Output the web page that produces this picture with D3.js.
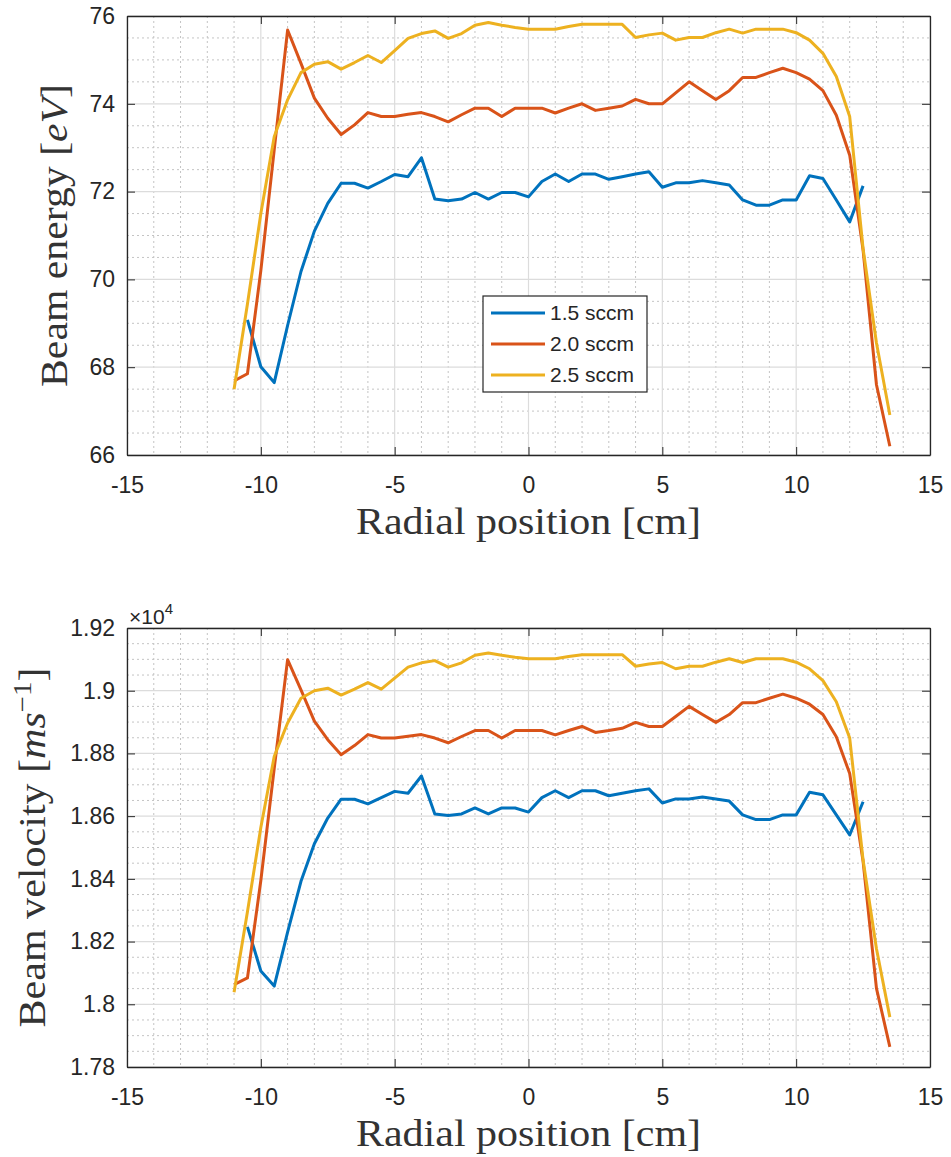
<!DOCTYPE html>
<html>
<head>
<meta charset="utf-8">
<script src="https://cdn.jsdelivr.net/npm/d3@7"></script>
<style>
  html, body { margin: 0; padding: 0; background: #ffffff; }
  svg { display: block; }
</style>
</head>
<body>
<svg id="chart" width="951" height="1157"></svg>
<script>
// ---------------- data ----------------
const seriesNames = ["1.5 sccm", "2.0 sccm", "2.5 sccm"];
const seriesColors = ["#0072BD", "#D95319", "#EDB120"];

const xBlue = [-10.5,-10,-9.5,-9,-8.5,-8,-7.5,-7,-6.5,-6,-5.5,-5,-4.5,-4,-3.5,-3,-2.5,-2,-1.5,-1,-0.5,0,0.5,1,1.5,2,2.5,3,3.5,4,4.5,5,5.5,6,6.5,7,7.5,8,8.5,9,9.5,10,10.5,11,11.5,12,12.5];
const xRedYellow = [-11,-10.5,-10,-9.5,-9,-8.5,-8,-7.5,-7,-6.5,-6,-5.5,-5,-4.5,-4,-3.5,-3,-2.5,-2,-1.5,-1,-0.5,0,0.5,1,1.5,2,2.5,3,3.5,4,4.5,5,5.5,6,6.5,7,7.5,8,8.5,9,9.5,10,10.5,11,11.5,12,12.5,13,13.5];

const energyBlue = [69.08,68.01,67.65,68.95,70.18,71.10,71.73,72.19,72.19,72.08,72.23,72.39,72.34,72.77,71.83,71.79,71.83,71.98,71.83,71.98,71.98,71.88,72.23,72.40,72.23,72.40,72.40,72.28,72.34,72.40,72.45,72.10,72.20,72.20,72.25,72.20,72.15,71.81,71.69,71.69,71.81,71.81,72.36,72.30,71.81,71.31,72.13];
const energyRed = [67.69,67.85,70.20,72.95,75.68,74.92,74.13,73.67,73.30,73.52,73.80,73.71,73.71,73.76,73.80,73.71,73.59,73.75,73.90,73.90,73.71,73.90,73.90,73.90,73.79,73.90,74.00,73.85,73.90,73.95,74.10,74.00,74.00,74.25,74.50,74.30,74.10,74.30,74.60,74.60,74.71,74.81,74.71,74.56,74.30,73.74,72.83,70.67,67.60,66.20];
const energyYellow = [67.50,69.44,71.50,73.25,74.09,74.71,74.90,74.96,74.79,74.94,75.10,74.94,75.21,75.49,75.60,75.66,75.49,75.60,75.79,75.85,75.79,75.74,75.70,75.70,75.70,75.76,75.81,75.81,75.81,75.81,75.51,75.57,75.61,75.45,75.51,75.51,75.62,75.70,75.61,75.70,75.70,75.70,75.62,75.45,75.15,74.62,73.71,70.70,68.55,66.91];

// velocity in units of 1e4 m/s
const velocityBlue = [1.8247,1.8106,1.8058,1.8230,1.8392,1.8512,1.8594,1.8654,1.8654,1.8639,1.8659,1.8679,1.8673,1.8728,1.8607,1.8602,1.8607,1.8626,1.8607,1.8626,1.8626,1.8613,1.8659,1.8681,1.8659,1.8681,1.8681,1.8665,1.8673,1.8681,1.8687,1.8642,1.8655,1.8655,1.8661,1.8655,1.8648,1.8604,1.8589,1.8589,1.8604,1.8604,1.8676,1.8668,1.8604,1.8540,1.8646];
const velocityRed = [1.8063,1.8084,1.8395,1.8752,1.9099,1.9003,1.8903,1.8844,1.8796,1.8825,1.8860,1.8849,1.8849,1.8855,1.8860,1.8849,1.8834,1.8854,1.8873,1.8873,1.8849,1.8873,1.8873,1.8873,1.8859,1.8873,1.8886,1.8867,1.8873,1.8880,1.8899,1.8886,1.8886,1.8918,1.8950,1.8924,1.8899,1.8924,1.8962,1.8962,1.8976,1.8989,1.8976,1.8957,1.8924,1.8853,1.8736,1.8456,1.8051,1.7864];
const velocityYellow = [1.8038,1.8295,1.8564,1.8790,1.8897,1.8976,1.9000,1.9008,1.8986,1.9005,1.9026,1.9005,1.9040,1.9075,1.9089,1.9096,1.9075,1.9089,1.9113,1.9120,1.9113,1.9107,1.9102,1.9102,1.9102,1.9109,1.9115,1.9115,1.9115,1.9115,1.9078,1.9085,1.9090,1.9070,1.9078,1.9078,1.9091,1.9102,1.9090,1.9102,1.9102,1.9102,1.9091,1.9070,1.9032,1.8965,1.8849,1.8460,1.8177,1.7959];

const xTicks = [-15,-10,-5,0,5,10,15];
const energyTicks = [66,68,70,72,74,76];
const velocityTicks = [1.78,1.8,1.82,1.84,1.86,1.88,1.9,1.92];

// ---------------- drawing ----------------
const svg = d3.select("#chart");
const AX = "#262626";
const tickFont = "'Liberation Sans', Arial, Helvetica, sans-serif";
const serif = "'Liberation Serif', 'Times New Roman', serif";

function drawPanel(p) {
  const x = d3.scaleLinear().domain([-15, 15]).range([p.left, p.right]);
  const y = d3.scaleLinear().domain(p.yDomain).range([p.bottom, p.top]);
  const g = svg.append("g");

  // minor grid
  const xMinor = d3.range(-15, 15.001, 1).filter(v => Math.abs(v % 5) > 1e-9);
  const yMinor = d3.range(p.yDomain[0], p.yDomain[1] + 1e-9, p.yMinorStep)
    .filter(v => !p.yTicks.some(t => Math.abs(t - v) < 1e-9));
  g.selectAll(".xminor").data(xMinor).join("line")
    .attr("x1", d => x(d)).attr("x2", d => x(d)).attr("y1", p.top).attr("y2", p.bottom)
    .attr("stroke", "#c4c4c4").attr("stroke-width", 1).attr("stroke-dasharray", "2,3");
  g.selectAll(".yminor").data(yMinor).join("line")
    .attr("y1", d => y(d)).attr("y2", d => y(d)).attr("x1", p.left).attr("x2", p.right)
    .attr("stroke", "#c4c4c4").attr("stroke-width", 1).attr("stroke-dasharray", "2,3");

  // major grid
  g.selectAll(".xmajor").data(xTicks).join("line")
    .attr("x1", d => x(d)).attr("x2", d => x(d)).attr("y1", p.top).attr("y2", p.bottom)
    .attr("stroke", "#dcdcdc").attr("stroke-width", 1.2);
  g.selectAll(".ymajor").data(p.yTicks).join("line")
    .attr("y1", d => y(d)).attr("y2", d => y(d)).attr("x1", p.left).attr("x2", p.right)
    .attr("stroke", "#dcdcdc").attr("stroke-width", 1.2);

  // data lines
  const line = d3.line().x(d => x(d[0])).y(d => y(d[1]));
  p.series.forEach((s, i) => {
    const pts = s.x.map((xv, k) => [xv, s.y[k]]);
    g.append("path").datum(pts)
      .attr("d", line).attr("fill", "none")
      .attr("stroke", seriesColors[i]).attr("stroke-width", 3)
      .attr("stroke-linejoin", "round").attr("stroke-linecap", "butt");
  });

  // axes
  const fmt = p.fmt;
  const axB = g.append("g").attr("transform", `translate(0,${p.bottom})`)
    .call(d3.axisBottom(x).tickValues(xTicks).tickSize(-8).tickSizeOuter(0).tickPadding(22).tickFormat(d => d));
  const axT = g.append("g").attr("transform", `translate(0,${p.top})`)
    .call(d3.axisTop(x).tickValues(xTicks).tickSize(-8).tickSizeOuter(0).tickFormat(""));
  const axL = g.append("g").attr("transform", `translate(${p.left},0)`)
    .call(d3.axisLeft(y).tickValues(p.yTicks).tickSize(-8).tickSizeOuter(0).tickPadding(12).tickFormat(fmt));
  const axR = g.append("g").attr("transform", `translate(${p.right},0)`)
    .call(d3.axisRight(y).tickValues(p.yTicks).tickSize(-8).tickSizeOuter(0).tickFormat(""));
  [axB, axT, axL, axR].forEach(a => {
    a.select(".domain").attr("stroke", AX).attr("stroke-width", 1.3);
    a.selectAll(".tick line").attr("stroke", AX).attr("stroke-width", 1);
    a.selectAll(".tick text").attr("fill", AX)
      .style("font-family", tickFont).style("font-size", "23px");
  });

  // x label
  g.append("text")
    .attr("x", (p.left + p.right) / 2).attr("y", p.bottom + 79)
    .attr("text-anchor", "middle")
    .attr("textLength", 345).attr("lengthAdjust", "spacingAndGlyphs")
    .style("font-family", serif).style("font-size", "38px").attr("fill", "#333333")
    .text("Radial position [cm]");

  // y label
  const yl = g.append("text")
    .attr("transform", `translate(${p.yLabelX},${(p.top + p.bottom) / 2}) rotate(-90)`)
    .attr("text-anchor", "middle")
    .attr("textLength", p.yLabelLen).attr("lengthAdjust", "spacingAndGlyphs")
    .style("font-family", serif).style("font-size", "38px").attr("fill", "#333333");
  p.yLabel(yl);
  return { x, y, g };
}

const panelEnergy = drawPanel({
  left: 127, right: 930, top: 16, bottom: 455,
  yDomain: [66, 76], yTicks: energyTicks, yMinorStep: 0.5,
  fmt: d => d,
  yLabelX: 67, yLabelLen: 303,
  yLabel: t => {
    t.append("tspan").text("Beam energy [");
    t.append("tspan").style("font-style", "italic").text("eV");
    t.append("tspan").text("]");
  },
  series: [
    { x: xBlue, y: energyBlue },
    { x: xRedYellow, y: energyRed },
    { x: xRedYellow, y: energyYellow }
  ]
});

const panelVelocity = drawPanel({
  left: 127, right: 930, top: 628, bottom: 1067,
  yDomain: [1.78, 1.92], yTicks: velocityTicks, yMinorStep: 0.005,
  fmt: d => String(+d.toFixed(2)),
  yLabelX: 45, yLabelLen: 360,
  yLabel: t => {
    t.append("tspan").text("Beam velocity [");
    t.append("tspan").style("font-style", "italic").text("ms");
    t.append("tspan").attr("dy", -14).style("font-size", "26px").text("\u22121");
    t.append("tspan").attr("dy", 14).text("]");
  },
  series: [
    { x: xBlue, y: velocityBlue },
    { x: xRedYellow, y: velocityRed },
    { x: xRedYellow, y: velocityYellow }
  ]
});

// exponent label for bottom axis
const ex = svg.append("text").attr("x", 129).attr("y", 624)
  .style("font-family", tickFont).style("font-size", "21px").attr("fill", AX);
ex.append("tspan").text("\u00d710");
ex.append("tspan").attr("dy", -10).style("font-size", "15px").text("4");

// legend (top panel)
const lg = svg.append("g").attr("transform", "translate(483,296)");
lg.append("rect").attr("x", 0).attr("y", 0).attr("width", 164).attr("height", 96)
  .attr("fill", "#ffffff").attr("stroke", AX).attr("stroke-width", 1.2);
seriesNames.forEach((name, i) => {
  const yy = 17 + i * 31;
  lg.append("line").attr("x1", 8).attr("x2", 62).attr("y1", yy).attr("y2", yy)
    .attr("stroke", seriesColors[i]).attr("stroke-width", 3);
  lg.append("text").attr("x", 67).attr("y", yy).attr("dy", "0.35em")
    .style("font-family", tickFont).style("font-size", "21px").attr("fill", AX)
    .text(name);
});
</script>
</body>
</html>
